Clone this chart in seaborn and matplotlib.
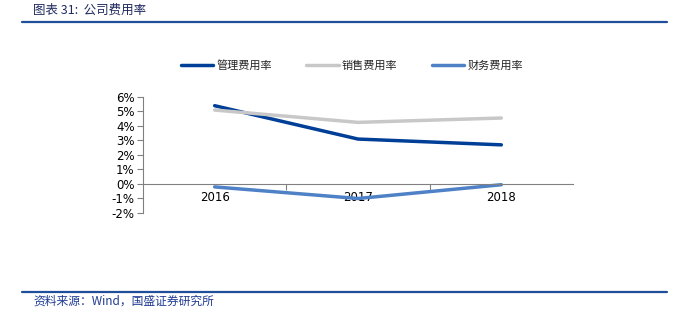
import matplotlib
matplotlib.use("Agg")
import matplotlib.pyplot as plt
import seaborn as sns
import pandas as pd
from matplotlib.lines import Line2D
from matplotlib.ticker import FixedLocator, PercentFormatter

years = ["2016", "2017", "2018"]
series_names = ["管理费用率", "销售费用率", "财务费用率"]
mgmt = [5.4, 3.1, 2.7]
sales = [5.1, 4.25, 4.55]
fin = [-0.2, -1.0, -0.05]
colors = ["#003F97", "#C8C8C8", "#4F81C7"]
yticks = [-2, -1, 0, 1, 2, 3, 4, 5, 6]

sns.set_theme(style="white")
plt.rcParams['font.family'] = ['Noto Sans CJK SC', 'DejaVu Sans']
plt.rcParams['axes.unicode_minus'] = False

rows = []
for name, vals in zip(series_names, [mgmt, sales, fin]):
    for i, (y, v) in enumerate(zip(years, vals)):
        rows.append({"x": i, "year": y, "series": name, "value": v})
df = pd.DataFrame(rows)

fig = plt.figure(figsize=(6.75, 3.23), dpi=100)
ax = fig.add_axes([143/675, 1-213/323, 430/675, 116/323])

sns.lineplot(data=df, x="x", y="value", hue="series", hue_order=series_names,
             palette=colors, linewidth=2.5, ax=ax, legend=False, sort=False)

ax.set_xlim(-0.5, 2.5)
ax.set_ylim(-2, 6)
ax.set_xlabel("")
ax.set_ylabel("")
ax.set_yticks(yticks)
ax.yaxis.set_major_formatter(PercentFormatter(decimals=0))
ax.set_xticks(range(len(years)))
ax.set_xticklabels(years)
ax.xaxis.set_minor_locator(FixedLocator([0.5, 1.5]))
for s in ["top", "right"]:
    ax.spines[s].set_visible(False)
ax.spines["bottom"].set_position(("data", 0))
ax.spines["bottom"].set_color("#808080")
ax.spines["left"].set_color("#808080")
ax.spines["bottom"].set_linewidth(0.8)
ax.spines["left"].set_linewidth(0.8)
ax.tick_params(axis="y", which="major", left=True, length=4, width=0.8,
               color="#808080", labelsize=8.5, pad=2, labelcolor="#000000")
ax.tick_params(axis="x", which="major", bottom=False, length=0, labelsize=8.5,
               pad=5, labelcolor="#000000")
ax.tick_params(axis="x", which="minor", bottom=True, length=4, width=0.8,
               color="#808080")
for lab in ax.get_yticklabels() + ax.get_xticklabels():
    lab.set_fontfamily("DejaVu Sans")
ax.grid(False)

handles = [Line2D([0], [0], color=c, lw=2.5) for c in colors]
fig.legend(handles, series_names, loc="center", bbox_to_anchor=(352/675, 1-65/323),
           ncol=3, frameon=False, fontsize=8, handlelength=2.9,
           columnspacing=3.1, handletextpad=0.3)

# title and header line
fig.text(33/675, 1-10/323, "图表 31:  公司费用率", fontsize=9, style="italic",
         color="#1F2A5E", va="center", ha="left")
fig.add_artist(Line2D([22/675, 667/675], [1-22/323, 1-22/323], color="#1F4E9A",
                      lw=1.6, transform=fig.transFigure))
fig.add_artist(Line2D([22/675, 667/675], [1-292/323, 1-292/323], color="#1F4E9A",
                      lw=1.6, transform=fig.transFigure))
fig.text(33/675, 1-301/323, "资料来源：Wind，国盛证券研究所", fontsize=8.5,
         style="italic", color="#1F3A93", va="center", ha="left")

fig.savefig("out.png", dpi=100)
